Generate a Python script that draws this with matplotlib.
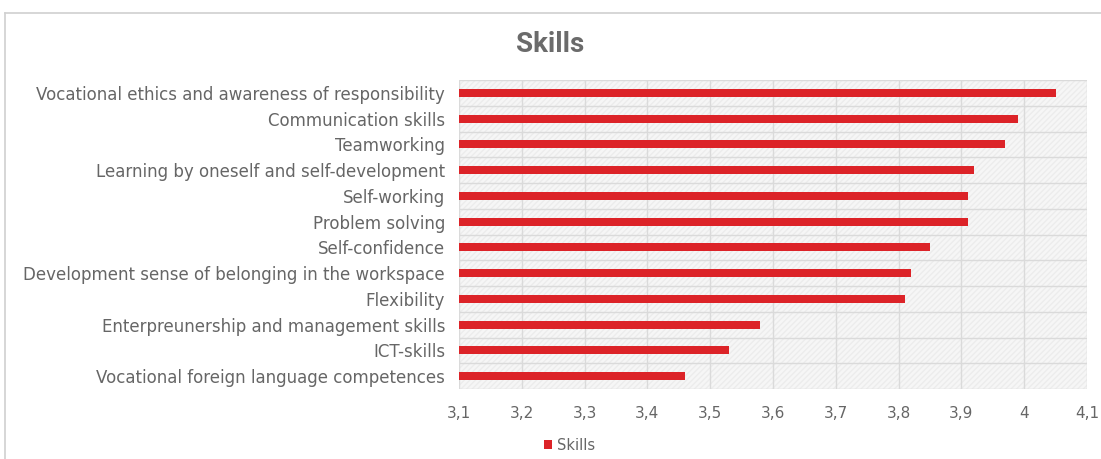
import matplotlib.pyplot as plt
from matplotlib.patches import Rectangle
from matplotlib.lines import Line2D
from matplotlib.ticker import FuncFormatter
import numpy as np

# skills, top to bottom, with the mean score of each
skills = [
    "Vocational ethics and awareness of responsibility",
    "Communication skills",
    "Teamworking",
    "Learning by oneself and self-development",
    "Self-working",
    "Problem solving",
    "Self-confidence",
    "Development sense of belonging in the workspace",
    "Flexibility",
    "Enterpreunership and management skills",
    "ICT-skills",
    "Vocational foreign language competences",
]
scores = [4.05, 3.99, 3.97, 3.92, 3.91, 3.91, 3.85, 3.82, 3.81, 3.58, 3.53, 3.46]
xticks = [3.1, 3.2, 3.3, 3.4, 3.5, 3.6, 3.7, 3.8, 3.9, 4.0, 4.1]

txt = "#666666"
red = "#dc2328"
plt.rcParams['font.family'] = ['DejaVu Sans']

fig = plt.figure(figsize=(11.01, 4.59), dpi=100)
ax = fig.add_axes([0.4169, 0.1525, 0.5704, 0.6732])

# hatched grey background of the plot area
ax.set_facecolor("#f6f6f6")
ax.add_patch(Rectangle((0, 0), 1, 1, transform=ax.transAxes, facecolor="none",
                       edgecolor="#ececec", hatch="//////", lw=0, zorder=0))

y = np.arange(len(skills))[::-1]
ax.barh(y, [s - 3.1 for s in scores], left=3.1, height=0.32, color=red,
        zorder=3, label="Skills")

ax.set_xlim(3.1, 4.1)
ax.set_ylim(-0.5, len(skills) - 0.5)
ax.set_xticks(xticks)
ax.xaxis.set_major_formatter(FuncFormatter(lambda v, p: ("%g" % round(v, 1)).replace(".", ",")))
ax.set_yticks(y)
ax.set_yticklabels(skills, va="center_baseline")
ax.tick_params(length=0, colors=txt)
ax.tick_params(axis="y", pad=10, labelsize=12)
ax.tick_params(axis="x", pad=12, labelsize=11)

# grid: vertical lines at ticks, horizontal lines between categories
for xv in xticks:
    ax.axvline(xv, color="#dadada", lw=1, zorder=1)
for yv in np.arange(-0.5, len(skills), 1.0):
    ax.axhline(yv, color="#dadada", lw=1, zorder=1)
for s in ax.spines.values():
    s.set_visible(False)

fig.text(0.4995, 0.902, "Skills", ha="center", va="center", fontsize=20,
         fontweight="bold", color="#6b6b6b", family=["Roboto", "DejaVu Sans"],
         fontstretch="condensed")

fig.legend(loc="center", bbox_to_anchor=(0.517, 0.03), frameon=False,
           fontsize=10.5, labelcolor=txt, handlelength=0.6, handleheight=0.6,
           handletextpad=0.3)

# chart-area border
fig.add_artist(Line2D([5 / 1101, 1], [1 - 13 / 459] * 2, color="#d0d0d0", lw=1.2))
fig.add_artist(Line2D([5 / 1101] * 2, [0, 1 - 13 / 459], color="#d0d0d0", lw=1.2))

fig.savefig("out.png", dpi=100, facecolor="white")
